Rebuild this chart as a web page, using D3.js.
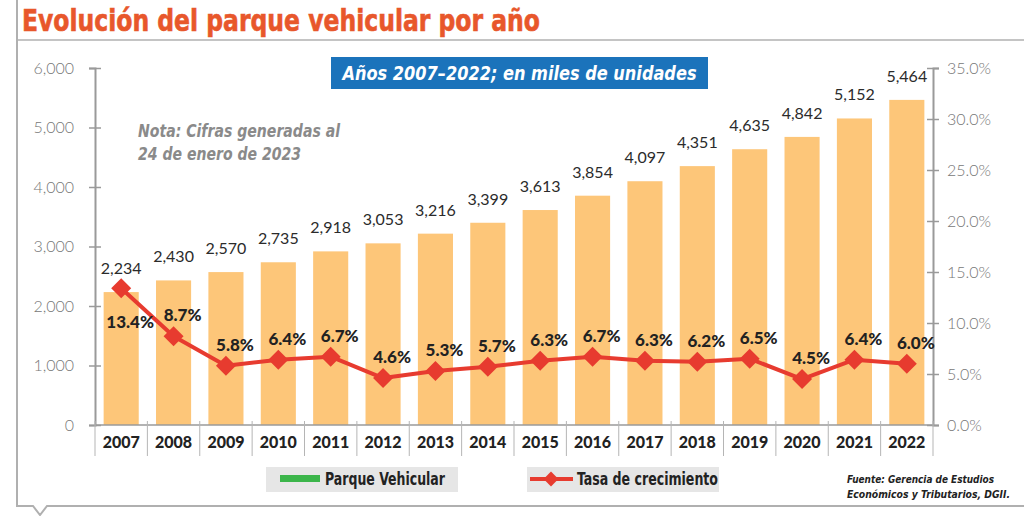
<!DOCTYPE html>
<html>
<head>
<meta charset="utf-8">
<script src="https://cdn.jsdelivr.net/npm/d3@7"></script>
<style>
    body { margin: 0; background: #fff; }
    svg { display: block; }
    .cond { font-family: "Liberation Sans Narrow", "DejaVu Sans Condensed", "Roboto", sans-serif; }
    .num { font-family: "Lato", "Noto Sans", sans-serif; }
</style>
</head>
<body>
<div id="chart"></div>
<script>
// data
let years = ["2007", "2008", "2009", "2010", "2011", "2012", "2013", "2014",
    "2015", "2016", "2017", "2018", "2019", "2020", "2021", "2022"];
let parque = [2234, 2430, 2570, 2735, 2918, 3053, 3216, 3399, 3613, 3854, 4097, 4351, 4635, 4842, 5152, 5464];
let tasa = [13.4, 8.7, 5.8, 6.4, 6.7, 4.6, 5.3, 5.7, 6.3, 6.7, 6.3, 6.2, 6.5, 4.5, 6.4, 6.0];
let leftTicks = [0, 1000, 2000, 3000, 4000, 5000, 6000];
let rightTicks = [0, 5, 10, 15, 20, 25, 30, 35];

let width = 1024, height = 516;
let margin = {top: 68, right: 91, bottom: 91, left: 95};

let svg = d3.select("#chart").append("svg")
    .attr("width", width)
    .attr("height", height);

let axisColor = "#9a9a9a";

// frame
svg.append("path")
    .attr("d", "M17,0 V506 H33 L40,515 L47,506 H1024")
    .attr("fill", "none")
    .attr("stroke", "#b0b0b0")
    .attr("stroke-width", 2);

svg.append("line")
    .attr("x1", 17).attr("x2", 1024)
    .attr("y1", 40).attr("y2", 40)
    .attr("stroke", "#b0b0b0")
    .attr("stroke-width", 1.5);

// title
svg.append("text")
    .attr("class", "cond")
    .attr("x", 22).attr("y", 31)
    .attr("textLength", 518)
    .attr("lengthAdjust", "spacingAndGlyphs")
    .style("font-size", "31px")
    .style("font-weight", "bold")
    .style("fill", "#e8572b")
    .style("stroke", "#e8572b")
    .style("stroke-width", 0.6)
    .text("Evolución del parque vehicular por año");

// scales
let x = d3.scaleBand()
    .domain(years)
    .range([margin.left, width - margin.right])
    .paddingInner(0.33)
    .paddingOuter(0.165);

let yL = d3.scaleLinear()
    .domain([0, 6000])
    .range([height - margin.bottom, margin.top]);

let yR = d3.scaleLinear()
    .domain([0, 35])
    .range([height - margin.bottom, margin.top]);

let base = height - margin.bottom;

// bars
svg.selectAll("rect.bar")
    .data(parque)
    .enter()
    .append("rect")
    .attr("class", "bar")
    .attr("x", (d, i) => x(years[i]))
    .attr("y", d => yL(d))
    .attr("width", x.bandwidth())
    .attr("height", d => base - yL(d))
    .style("fill", "#fdc679");

svg.selectAll("text.barlabel")
    .data(parque)
    .enter()
    .append("text")
    .attr("class", "barlabel num")
    .attr("x", (d, i) => x(years[i]) + x.bandwidth() / 2)
    .attr("y", d => yL(d) - 18)
    .style("text-anchor", "middle")
    .style("font-size", "16px")
    .style("fill", "#2b2b2b")
    .text(d => d3.format(",")(d));

// left axis
let gL = svg.append("g")
    .attr("transform", "translate(" + margin.left + ",0)")
    .call(d3.axisLeft(yL).tickValues(leftTicks).tickFormat(d3.format(",")).tickSizeOuter(0).tickSize(6).tickPadding(15));
gL.selectAll(".tick line").attr("x1", 6);

// right axis
let gR = svg.append("g")
    .attr("transform", "translate(" + (width - margin.right) + ",0)")
    .call(d3.axisRight(yR).tickValues(rightTicks).tickFormat(d => d.toFixed(1) + "%").tickSizeOuter(0).tickSize(6).tickPadding(8));
gR.selectAll(".tick line").attr("x1", -6);

[gL, gR].forEach(g => {
    g.select(".domain").attr("stroke", axisColor).attr("stroke-width", 2);
    g.selectAll(".tick line").attr("stroke", axisColor).attr("stroke-width", 1.5);
    g.selectAll(".tick text")
        .attr("class", "num")
        .style("font-size", "16px")
        .style("font-weight", 300)
        .style("fill", "#777");
});

// x axis
svg.append("line")
    .attr("x1", margin.left).attr("x2", width - margin.right)
    .attr("y1", base).attr("y2", base)
    .attr("stroke", axisColor)
    .attr("stroke-width", 1.5);

let gap = x.step() - x.bandwidth();
let edges = years.map(d => x(d) - gap / 2).concat([width - margin.right]);
svg.selectAll("line.sep")
    .data(edges)
    .enter()
    .append("line")
    .attr("class", "sep")
    .attr("x1", d => d).attr("x2", d => d)
    .attr("y1", base - 4).attr("y2", base + 31)
    .attr("stroke", "#b5b5b5")
    .attr("stroke-width", 1);

let gX = svg.append("g")
    .attr("transform", "translate(0," + base + ")")
    .call(d3.axisBottom(x).tickSize(0).tickPadding(12));
gX.select(".domain").remove();
gX.selectAll(".tick text")
    .attr("class", "num")
    .style("font-size", "16px")
    .style("font-weight", 900)
    .style("fill", "#222");

// growth line
let line = d3.line()
    .x((d, i) => x(years[i]) + x.bandwidth() / 2)
    .y(d => yR(d));

svg.append("path")
    .datum(tasa)
    .attr("d", line)
    .attr("fill", "none")
    .attr("stroke", "#e73b2f")
    .attr("stroke-width", 4)
    .attr("stroke-linejoin", "round");

svg.selectAll("path.marker")
    .data(tasa)
    .enter()
    .append("path")
    .attr("class", "marker")
    .attr("d", d3.symbol(d3.symbolSquare, 200))
    .attr("transform", (d, i) => "translate(" + (x(years[i]) + x.bandwidth() / 2) + "," + yR(d) + ") rotate(45)")
    .style("fill", "#e73b2f");

svg.selectAll("text.pct")
    .data(tasa)
    .enter()
    .append("text")
    .attr("class", "pct num")
    .attr("x", (d, i) => x(years[i]) + x.bandwidth() / 2 + 9)
    .attr("y", (d, i) => i === 0 ? yR(d) + 40 : yR(d) - 15)
    .style("text-anchor", "middle")
    .style("font-size", "17px")
    .style("font-weight", 900)
    .style("fill", "#222")
    .text(d => d.toFixed(1) + "%");

// subtitle box
svg.append("rect")
    .attr("x", 331).attr("y", 57)
    .attr("width", 377).attr("height", 32)
    .style("fill", "#1b73bb");

svg.append("text")
    .attr("class", "cond")
    .attr("x", 519.5).attr("y", 80)
    .attr("textLength", 354)
    .attr("lengthAdjust", "spacingAndGlyphs")
    .style("text-anchor", "middle")
    .style("font-size", "20px")
    .style("font-weight", "bold")
    .style("font-style", "italic")
    .style("fill", "#fff")
    .text("Años 2007–2022; en miles de unidades");

// note
let note = svg.append("text")
    .attr("class", "cond")
    .style("font-size", "18px")
    .style("font-weight", "bold")
    .style("font-style", "italic")
    .style("fill", "#8a8a8a");
note.append("tspan").attr("x", 138).attr("y", 137).attr("textLength", 202).attr("lengthAdjust", "spacingAndGlyphs").text("Nota: Cifras generadas al");
note.append("tspan").attr("x", 138).attr("y", 160).attr("textLength", 163).attr("lengthAdjust", "spacingAndGlyphs").text("24 de enero de 2023");

// legend
svg.append("rect")
    .attr("x", 266).attr("y", 467)
    .attr("width", 192).attr("height", 25)
    .style("fill", "#e6e6e6");
svg.append("rect")
    .attr("x", 280).attr("y", 475)
    .attr("width", 40).attr("height", 7)
    .style("fill", "#3bb54a");
svg.append("text")
    .attr("class", "cond")
    .attr("x", 325).attr("y", 485)
    .attr("textLength", 120)
    .attr("lengthAdjust", "spacingAndGlyphs")
    .style("font-size", "17px")
    .style("font-weight", "bold")
    .style("fill", "#222")
    .text("Parque Vehicular");

svg.append("rect")
    .attr("x", 527).attr("y", 467)
    .attr("width", 192).attr("height", 25)
    .style("fill", "#e6e6e6");
svg.append("line")
    .attr("x1", 530).attr("x2", 573)
    .attr("y1", 479).attr("y2", 479)
    .attr("stroke", "#e73b2f")
    .attr("stroke-width", 4);
svg.append("path")
    .attr("d", d3.symbol(d3.symbolSquare, 110))
    .attr("transform", "translate(551,479) rotate(45)")
    .style("fill", "#e73b2f");
svg.append("text")
    .attr("class", "cond")
    .attr("x", 577).attr("y", 485)
    .attr("textLength", 141)
    .attr("lengthAdjust", "spacingAndGlyphs")
    .style("font-size", "17px")
    .style("font-weight", "bold")
    .style("fill", "#222")
    .text("Tasa de crecimiento");

// source
let src = svg.append("text")
    .attr("class", "cond")
    .style("font-size", "10.5px")
    .style("font-weight", "bold")
    .style("font-style", "italic")
    .style("fill", "#222");
src.append("tspan").attr("x", 847).attr("y", 483).attr("textLength", 147).attr("lengthAdjust", "spacingAndGlyphs").text("Fuente: Gerencia de Estudios");
src.append("tspan").attr("x", 847).attr("y", 498).attr("textLength", 163).attr("lengthAdjust", "spacingAndGlyphs").text("Económicos y Tributarios, DGII.");
</script>
</body>
</html>
